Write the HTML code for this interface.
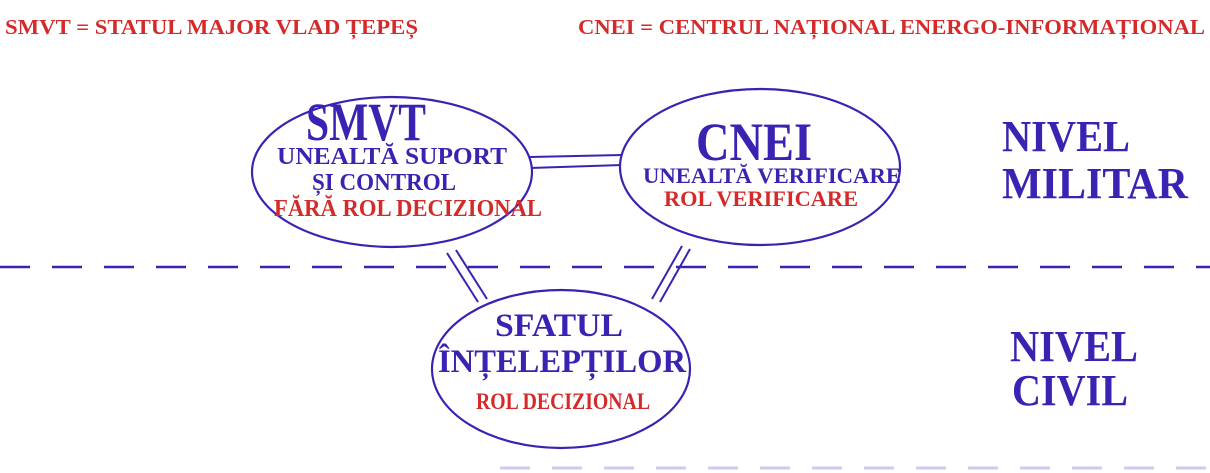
<!DOCTYPE html>
<html><head><meta charset="utf-8"><style>
html,body{margin:0;padding:0;background:#fff;}
svg{display:block;}
text{font-family:"Liberation Serif",serif;font-weight:bold;}
.b{fill:#3b22b2;}
.r{fill:#d42a2a;}
</style></head><body>
<svg width="1210" height="473" viewBox="0 0 1210 473" xmlns="http://www.w3.org/2000/svg">
<rect width="1210" height="473" fill="#fff"/>
<text class="r" x="5" y="34" font-size="21" textLength="413" lengthAdjust="spacingAndGlyphs">SMVT = STATUL MAJOR VLAD ȚEPEȘ</text>
<text class="r" x="578" y="34" font-size="21" textLength="627" lengthAdjust="spacingAndGlyphs">CNEI = CENTRUL NAȚIONAL ENERGO-INFORMAȚIONAL</text>

<line x1="0" y1="267" x2="1210" y2="267" stroke="#3b22b2" stroke-width="2.5" stroke-dasharray="30 22"/>
<line x1="500" y1="468" x2="1210" y2="468" stroke="#d0caf0" stroke-width="3" stroke-dasharray="30 22"/>

<g stroke="#3b22b2" stroke-width="2" fill="none">
<line x1="530" y1="157" x2="622" y2="155"/>
<line x1="530" y1="168" x2="622" y2="165"/>
<line x1="447" y1="253" x2="478" y2="302"/>
<line x1="456" y1="250" x2="487" y2="299"/>
<line x1="682" y1="246" x2="652" y2="299"/>
<line x1="690" y1="249" x2="660" y2="302"/>
</g>
<g stroke="#3b22b2" stroke-width="2.2" fill="#fff">
<ellipse cx="392" cy="172" rx="140" ry="75"/>
<ellipse cx="760" cy="167" rx="140" ry="78"/>
<ellipse cx="561" cy="369" rx="129" ry="79"/>
</g>

<text class="b" x="366" y="140" font-size="54" text-anchor="middle" textLength="120" lengthAdjust="spacingAndGlyphs">SMVT</text>
<text class="b" x="392" y="164" font-size="24" text-anchor="middle" textLength="230" lengthAdjust="spacingAndGlyphs">UNEALTĂ SUPORT</text>
<text class="b" x="384" y="190" font-size="24" text-anchor="middle" textLength="144" lengthAdjust="spacingAndGlyphs">ȘI CONTROL</text>
<text class="r" x="408" y="216" font-size="24" text-anchor="middle" textLength="268" lengthAdjust="spacingAndGlyphs">FĂRĂ ROL DECIZIONAL</text>

<text class="b" x="754" y="160" font-size="54" text-anchor="middle" textLength="116" lengthAdjust="spacingAndGlyphs">CNEI</text>
<text class="b" x="772" y="183" font-size="22" text-anchor="middle" textLength="258" lengthAdjust="spacingAndGlyphs">UNEALTĂ VERIFICARE</text>
<text class="r" x="761" y="206" font-size="22" text-anchor="middle" textLength="194" lengthAdjust="spacingAndGlyphs">ROL VERIFICARE</text>

<text class="b" x="559" y="336" font-size="33" text-anchor="middle" textLength="128" lengthAdjust="spacingAndGlyphs">SFATUL</text>
<text class="b" x="562" y="372" font-size="33" text-anchor="middle" textLength="248" lengthAdjust="spacingAndGlyphs">ÎNȚELEPȚILOR</text>
<text class="r" x="563" y="409" font-size="23" text-anchor="middle" textLength="174" lengthAdjust="spacingAndGlyphs">ROL DECIZIONAL</text>

<text class="b" x="1002" y="151" font-size="44" textLength="128" lengthAdjust="spacingAndGlyphs">NIVEL</text>
<text class="b" x="1002" y="198" font-size="44" textLength="186" lengthAdjust="spacingAndGlyphs">MILITAR</text>
<text class="b" x="1010" y="361" font-size="44" textLength="128" lengthAdjust="spacingAndGlyphs">NIVEL</text>
<text class="b" x="1012" y="405" font-size="44" textLength="116" lengthAdjust="spacingAndGlyphs">CIVIL</text>
</svg>
</body></html>
